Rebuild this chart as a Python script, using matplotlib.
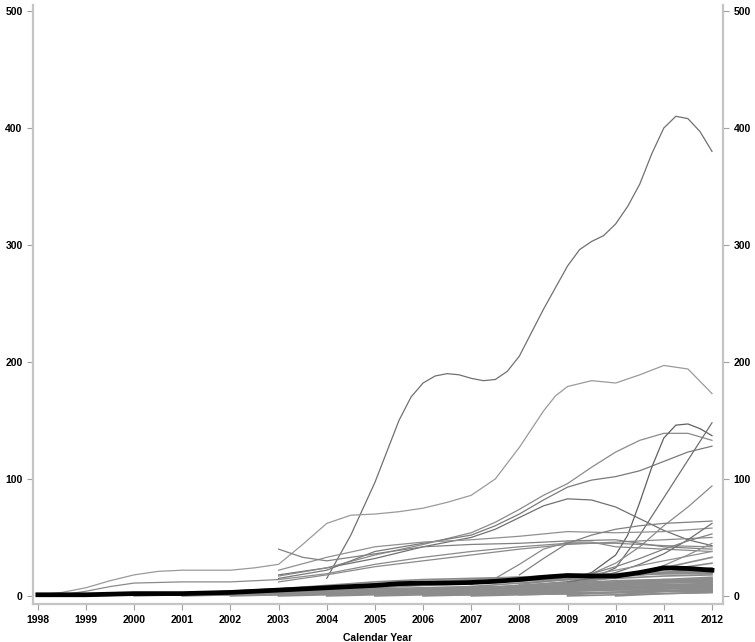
import numpy as np
import matplotlib
matplotlib.use("Agg")
import matplotlib.pyplot as plt

plt.rcParams['font.family'] = ['Liberation Sans', 'DejaVu Sans']

years = list(range(1998, 2013))

# large individual trajectories: (years, values)
line_a_x = [2004, 2004.5, 2005, 2005.5, 2005.75, 2006, 2006.25, 2006.5, 2006.75, 2007, 2007.25, 2007.5,
            2007.75, 2008, 2008.5, 2009, 2009.25, 2009.5, 2009.75, 2010, 2010.25, 2010.5, 2010.75,
            2011, 2011.25, 2011.5, 2011.75, 2012]
line_a_y = [15, 52, 97, 150, 170, 182, 188, 190, 189, 186, 184, 185, 192, 205, 245, 282, 296, 303,
            308, 318, 333, 352, 378, 400, 410, 408, 397, 380]

line_b_x = [1998, 1998.5, 1999, 1999.5, 2000, 2000.5, 2001, 2001.5, 2002, 2002.5, 2003, 2003.5, 2004,
            2004.5, 2005, 2005.5, 2006, 2006.5, 2007, 2007.5, 2008, 2008.5, 2008.75, 2009, 2009.5,
            2010, 2010.5, 2011, 2011.5, 2012]
line_b_y = [1, 3, 7, 13, 18, 21, 22, 22, 22, 24, 27, 44, 62, 69, 70, 72, 75, 80, 86, 100, 127, 158,
            171, 179, 184, 182, 189, 197, 194, 173]

line_d_x = [1998.5, 1999, 1999.5, 2000, 2001, 2002, 2003, 2004, 2005, 2006, 2007, 2008, 2009, 2010, 2011, 2012]
line_d_y = [1, 4, 8, 11, 12, 12, 14, 19, 27, 33, 38, 42, 45, 45, 43, 42]

line_e_x = [2003, 2004, 2005, 2006, 2007, 2007.5, 2008, 2008.5, 2009, 2009.5, 2010, 2010.5, 2011, 2011.5, 2012]
line_e_y = [18, 24, 32, 42, 50, 57, 67, 77, 83, 82, 76, 66, 56, 48, 43]

line_f_x = [2003, 2004, 2005, 2006, 2006.5, 2007, 2007.5, 2008, 2008.5, 2009, 2009.5, 2010, 2010.5, 2011, 2011.5, 2012]
line_f_y = [17, 24, 35, 44, 49, 54, 63, 74, 86, 96, 110, 123, 133, 139, 139, 133]

line_g_x = [2003, 2004, 2005, 2006, 2007, 2007.5, 2008, 2008.5, 2009, 2009.5, 2010, 2010.5, 2011, 2011.5, 2012]
line_g_y = [15, 22, 38, 45, 52, 60, 70, 82, 93, 99, 102, 107, 115, 123, 128]

line_h_x = [2009, 2009.5, 2010, 2010.25, 2010.5, 2010.75, 2011, 2011.25, 2011.5, 2011.75, 2012]
line_h_y = [14, 20, 35, 52, 80, 110, 135, 146, 147, 143, 137]

line_i_x = [2009.5, 2010, 2010.5, 2011, 2011.5, 2012]
line_i_y = [15, 24, 52, 84, 116, 148]

line_k_x = [2008, 2009, 2009.5, 2010, 2010.5, 2011, 2011.5, 2012]
line_k_y = [10, 14, 19, 28, 42, 60, 76, 94]

line_m_x = [2003, 2004, 2005, 2006, 2007, 2008, 2009, 2010, 2011, 2012]
line_m_y = [22, 33, 42, 46, 48, 51, 55, 54, 55, 58]

line_n_x = [2007, 2007.5, 2008, 2008.5, 2009, 2009.5, 2010, 2011, 2012]
line_n_y = [10, 15, 27, 40, 46, 46, 42, 40, 38]

line_o_x = [2003, 2004, 2005, 2006, 2007, 2008, 2009, 2010, 2011, 2012]
line_o_y = [12, 18, 25, 30, 35, 40, 44, 46, 48, 50]

line_q_x = [2003, 2003.5, 2004, 2005, 2006, 2007, 2008, 2009, 2010, 2011, 2012]
line_q_y = [40, 33, 30, 36, 42, 44, 45, 47, 48, 42, 40]

line_r_x = [2008, 2008.5, 2009, 2009.5, 2010, 2010.5, 2011, 2011.5, 2012]
line_r_y = [18, 32, 45, 52, 57, 60, 62, 63, 64]

line_p1_x = [2009, 2009.5, 2010, 2010.5, 2011, 2011.5, 2012]
line_p1_y = [12, 15, 20, 27, 36, 48, 62]
line_p2_x = [2009, 2009.5, 2010, 2010.5, 2011, 2011.5, 2012]
line_p2_y = [15, 19, 25, 32, 40, 47, 53]
line_p3_x = [2009.5, 2010, 2010.5, 2011, 2011.5, 2012]
line_p3_y = [18, 22, 26, 30, 34, 38]
line_p4_x = [2010, 2010.5, 2011, 2011.5, 2012]
line_p4_y = [15, 20, 26, 35, 45]

major = [(line_a_x, line_a_y, '#707070'), (line_b_x, line_b_y, '#9a9a9a'),
         (line_d_x, line_d_y, '#8a8a8a'), (line_e_x, line_e_y, '#707070'),
         (line_f_x, line_f_y, '#8a8a8a'), (line_g_x, line_g_y, '#7a7a7a'),
         (line_h_x, line_h_y, '#606060'), (line_i_x, line_i_y, '#707070'),
         (line_k_x, line_k_y, '#8a8a8a'), (line_m_x, line_m_y, '#909090'),
         (line_n_x, line_n_y, '#8a8a8a'), (line_o_x, line_o_y, '#8a8a8a'),
         (line_q_x, line_q_y, '#808080'), (line_r_x, line_r_y, '#808080'),
         (line_p1_x, line_p1_y, '#707070'), (line_p2_x, line_p2_y, '#808080'),
         (line_p3_x, line_p3_y, '#909090'), (line_p4_x, line_p4_y, '#909090')]

# many small trajectories, yearly values 1998-2012
N = None
low_lines = [
    [0, 0, 1, 1, 1, 2, 3, 4, 5, 6, 7, 8, 9, 10, 10],
    [0, 1, 1, 2, 2, 3, 4, 5, 6, 6, 7, 9, 11, 13, 12],
    [1, 1, 2, 2, 3, 4, 5, 6, 7, 8, 8, 9, 10, 12, 14],
    [N, N, 0, 1, 1, 2, 2, 3, 4, 5, 6, 7, 8, 9, 9],
    [N, N, N, 0, 1, 1, 2, 3, 3, 4, 5, 6, 7, 8, 8],
    [N, N, N, N, 0, 1, 2, 2, 3, 4, 4, 5, 6, 7, 8],
    [N, N, N, N, N, 0, 1, 2, 3, 3, 4, 5, 6, 6, 7],
    [N, N, N, N, N, 1, 2, 4, 5, 6, 7, 8, 9, 11, 12],
    [N, N, N, N, N, N, 1, 2, 3, 4, 5, 6, 6, 7, 6],
    [N, N, N, N, N, N, 0, 1, 2, 2, 3, 4, 5, 5, 5],
    [N, N, N, N, N, N, 2, 4, 6, 7, 8, 9, 11, 13, 15],
    [N, N, N, N, N, N, N, 1, 2, 3, 4, 5, 6, 7, 8],
    [N, N, N, N, N, N, N, 0, 1, 1, 2, 3, 3, 4, 4],
    [N, N, N, N, N, N, N, N, 1, 2, 3, 5, 7, 8, 10],
    [N, N, N, N, N, N, N, N, 0, 1, 2, 2, 3, 4, 4],
    [N, N, N, N, N, N, N, N, N, 1, 3, 5, 7, 9, 11],
    [N, N, N, N, N, N, N, N, N, 0, 1, 2, 3, 4, 5],
    [N, N, N, N, N, N, N, N, N, N, 2, 4, 6, 8, 10],
    [N, N, N, N, N, N, N, N, N, N, 1, 2, 3, 4, 5],
    [N, N, N, N, N, N, N, N, N, N, N, 1, 3, 6, 9],
    [N, N, N, N, N, N, N, N, N, N, N, 0, 1, 2, 3],
    [N, N, N, N, N, N, N, N, N, N, N, N, 1, 4, 7],
    [N, N, N, N, N, N, N, N, N, N, N, N, 0, 2, 3],
    [N, N, N, N, N, 3, 5, 8, 10, 12, 13, 14, 15, 17, 18],
    [N, N, N, N, 2, 4, 6, 9, 11, 12, 14, 16, 18, 20, 21],
    [N, N, N, N, N, N, 4, 7, 9, 11, 13, 15, 18, 20, 22],
    [N, N, N, N, N, N, N, N, 5, 8, 11, 14, 17, 19, 20],
    [N, N, N, N, N, N, N, N, N, 6, 9, 12, 16, 20, 24],
    [N, N, N, N, N, N, N, N, N, N, 8, 12, 16, 22, 28],
    [N, N, N, N, N, N, N, N, N, N, N, 10, 16, 24, 33],
    [N, N, 1, 2, 4, 6, 9, 12, 14, 15, 16, 17, 18, 19, 19],
    [N, N, N, 2, 4, 6, 8, 10, 12, 14, 16, 18, 19, 20, 20],
    [N, N, N, N, N, N, 1, 3, 5, 6, 8, 10, 12, 14, 16],
    [N, N, N, N, N, N, N, 2, 4, 6, 9, 11, 13, 14, 13],
    [N, N, N, N, N, N, N, N, N, N, 3, 6, 9, 12, 14],
]

# overall mean trajectory
mean_x = [1998, 1998.5, 1999, 1999.5, 2000, 2000.5, 2001, 2001.5, 2002, 2002.5, 2003, 2003.5, 2004,
          2004.5, 2005, 2005.5, 2006, 2006.5, 2007, 2007.5, 2008, 2008.5, 2009, 2009.5, 2010, 2010.5,
          2011, 2011.5, 2012]
mean_y = [1, 1, 1, 1.5, 2, 2, 2, 2.5, 3, 4, 5, 6, 7, 8, 9, 10.5, 11, 11, 11.5, 12.5, 14, 16, 17.5,
          17, 17, 20, 24, 23.5, 22]

fig = plt.figure(figsize=(7.55, 6.42), dpi=100)
ax = fig.add_axes([0.0437, 0.059, 0.914, 0.933])

for vals in low_lines:
    v = np.array([np.nan if x is None else x for x in vals], dtype=float)
    ax.plot(years, v, color='#8c8c8c', lw=1.2)

for xs, ys, c in major:
    ax.plot(xs, ys, color=c, lw=0.9)

ax.plot(mean_x, mean_y, color='black', lw=3.4)

ax.set_xlim(1997.9, 2012.23)
ax.set_ylim(-7, 505)
ax.set_xticks(years)
ax.set_yticks([0, 100, 200, 300, 400, 500])

for s in ['left', 'right', 'bottom']:
    ax.spines[s].set_color('#c4c4c4')
    ax.spines[s].set_linewidth(1.6)
ax.spines['top'].set_visible(False)

ax.tick_params(axis='both', colors='#a0a0a0', labelcolor='black', labelsize=7.5, length=4, width=0.8)
ax.tick_params(axis='y', right=True, labelright=True)
for lab in ax.get_xticklabels() + ax.get_yticklabels():
    lab.set_fontweight('bold')
for t in ax.yaxis.get_major_ticks():
    t.label2.set_fontweight('bold')

ax.set_xlabel('Calendar Year', fontsize=7.5, fontweight='bold', labelpad=6)

fig.savefig('out.png', dpi=100)
